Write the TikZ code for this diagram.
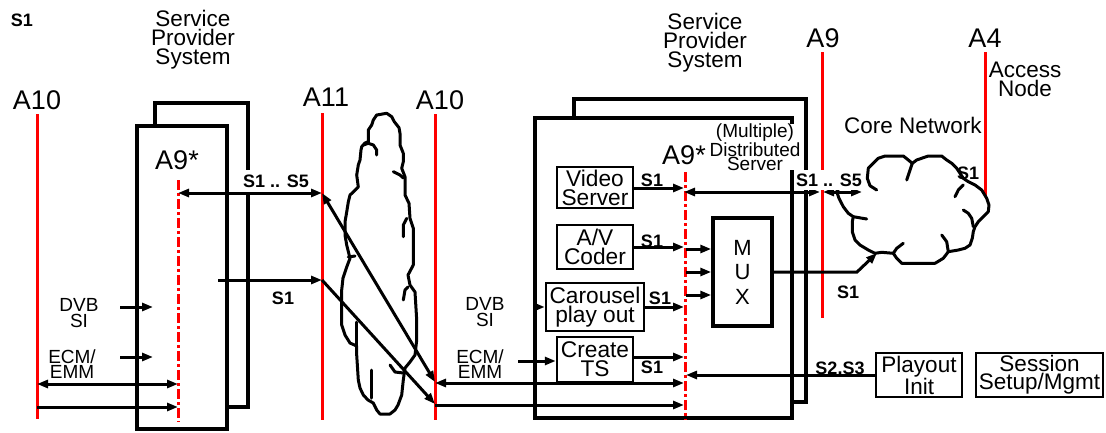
\documentclass[tikz,border=0pt]{standalone}
\usepackage{fontspec}
\setmainfont{Liberation Sans}
\usetikzlibrary{arrows.meta}
\newcommand\myfs[2]{\fontsize{#1}{#2}\selectfont}
\begin{document}
\begin{tikzpicture}[x=1pt,y=-1pt,
  refline/.style={draw=red, line width=3pt},
  refdash/.style={draw=red, line width=3pt, dash pattern=on 10pt off 3pt on 3pt off 3pt},
  sysbox/.style={draw, line width=3.5pt, inner sep=0pt},
  fbox/.style={draw, line width=3.5pt, fill=white, inner sep=0pt},
  blk/.style={draw, line width=2.5pt, inner sep=0pt, align=center, font=\myfs{22.7}{19}, fill=white},
  big/.style={font=\myfs{27}{27}, inner sep=0pt},
  mid/.style={font=\myfs{22.5}{19}, inner sep=0pt, align=center},
  sml/.style={font=\myfs{19}{16}, inner sep=0pt, align=center},
  sig/.style={font=\myfs{18}{18}\bfseries, inner sep=1pt},
  cloudline/.style={draw, line width=3pt, line join=round, line cap=round},
  tip/.style={line width=3pt, -{Triangle[length=11pt,width=8pt]}},
  dtip/.style={line width=3pt, {Triangle[length=11pt,width=8pt]}-{Triangle[length=11pt,width=8pt]}},
]
\useasboundingbox (0,0) rectangle (1106,432);

% ---------- system boxes ----------
\node[sysbox, minimum width=93, minimum height=304] (spLback) at (201.5,255) {};
\node[fbox, minimum width=90, minimum height=303] (spLfront) at (182,277.5) {};
\node[sysbox, minimum width=232, minimum height=303] (spRback) at (690,250.5) {};
\node[fbox, minimum width=257, minimum height=300] (spRfront) at (663.5,268) {};

% ---------- reference lines ----------
\coordinate (a10Lt) at (37,114);   \coordinate (a10Lb) at (37,419);
\coordinate (a11t) at (322,113);   \coordinate (a11b) at (322,420);
\coordinate (a10Mt) at (435,114);  \coordinate (a10Mb) at (435,420);
\coordinate (a9sLt) at (178,180);  \coordinate (a9sLb) at (178,422);
\coordinate (a9sRt) at (685,172);  \coordinate (a9sRb) at (685,420);
\coordinate (a9t) at (822,52);     \coordinate (a9b) at (822,318);
\coordinate (a4t) at (985,52);     \coordinate (a4b) at (985,197);
\draw[refline] (a10Lt) -- (a10Lb);
\draw[refline] (a11t) -- (a11b);
\draw[refline] (a10Mt) -- (a10Mb);
\draw[refdash] (a9sLt) -- (a9sLb);
\draw[refdash] (a9sRt) -- (a9sRb);
\draw[refline] (a9t) -- (a9b);
\draw[refline] (a4t) -- (a4b);

% ---------- left cloud ----------
\draw[cloudline] (376.7,115) -- (386.7,113.3) -- (391.7,116.7) -- (394.3,121.7) -- (399,127.7) -- (400,133.3) -- (400,145) -- (403.3,153.3) -- (403.3,161.7) -- (401.7,168.3) -- (405,176.7) -- (405,195) -- (409,203.3) -- (410,218.3) -- (413.3,228.3) -- (413.3,265) -- (408,275) -- (410,285) -- (415,292) -- (416.7,320) -- (416.7,340) -- (415,355) -- (410,362) -- (405,368) -- (403.3,380) -- (401.7,395) -- (398,405) -- (395,410) -- (390,414) -- (380,414) -- (376.7,410) -- (373.3,403) -- (368,400) -- (363.3,395) -- (360,388) -- (358.3,380) -- (356.7,355) -- (356.7,346) -- (350,343) -- (345,335) -- (341.7,325) -- (341.7,290) -- (343,278) -- (346.7,267) -- (350,258.3) -- (346.7,245) -- (345,235) -- (345,222) -- (346.7,212) -- (348.3,202) -- (350,195) -- (353.3,192) -- (358.3,187) -- (356.7,175) -- (358.3,165) -- (360,160) -- (361,150) -- (361.7,146.7) -- (365,143) -- (368.3,141.7) -- (368.3,130) -- (371.7,125) -- (373.3,120) -- cycle;
\draw[cloudline] (363.3,145) -- (368.3,143.3) -- (373.3,145) -- (376.7,150) -- (376.7,155);
\draw[cloudline] (393.3,171.7) -- (400,175) -- (403.3,178);
\draw[cloudline] (406.7,218.3) -- (403.3,225) -- (403.3,236.7);
\draw[cloudline] (348.3,257) -- (355,256);
\draw[cloudline] (403.3,300) -- (405,290) -- (408,287);
\draw[cloudline] (356.7,346) -- (356.7,322);
\draw[cloudline] (371.7,370) -- (371.7,398);
\draw[cloudline] (390,365) -- (395,372) -- (403.3,373);

% ---------- core network cloud ----------
\draw[cloudline] (876.7,190) -- (870,185.7) -- (867.3,178.3) -- (868.3,168.3) -- (873.3,163.3) -- (878.3,158.3) -- (885,156) -- (903.3,156) -- (908.3,160) -- (912.3,163.3) -- (916.7,160) -- (923.3,157.7) -- (928.3,156) -- (941.7,156) -- (946.7,160) -- (951.7,163.3) -- (956.7,168.3) -- (960,173.3) -- (963.3,178.3) -- (968.3,181.7) -- (975,185) -- (981.7,190) -- (986.7,198.3) -- (989,205) -- (988.3,211.7) -- (983.3,216.7) -- (978.3,221.7) -- (975,226.7) -- (973.3,231.7) -- (972.3,238.3) -- (970,245) -- (965,248.3) -- (958.3,250) -- (948.3,251.7) -- (943.3,258.3) -- (935,263.3) -- (901.7,263.3) -- (896.7,258.3) -- (893.3,253.3) -- (881.7,252.3) -- (875,253.3) -- (868.3,250) -- (860,245) -- (855,240) -- (852.3,231.7) -- (852.3,221.7) -- (853.3,216.7) -- (848.3,213.3) -- (843.3,206.7) -- (839,198.3) -- (836.7,191.7) -- (840,186.7);
\draw[cloudline] (912.3,163.3) -- (906.7,180);
\draw[cloudline] (963.3,185) -- (958.3,190) -- (955,196.7);
\draw[cloudline] (963.3,210) -- (968.3,213.3) -- (971.7,218.3) -- (973.3,226.7);
\draw[cloudline] (941.7,235) -- (946.7,241.7) -- (948.3,251.7);
\draw[cloudline] (903.3,243.3) -- (896.7,248.3) -- (893.3,253.3);
\draw[cloudline] (853.3,216.7) -- (866.7,219);

% ---------- functional blocks ----------
\node[blk, minimum width=76, minimum height=41] (vs) at (595,187.5) {Video\\Server};
\node[blk, minimum width=76, minimum height=44] (av) at (595,247) {A/V\\Coder};
\node[blk, minimum width=98, minimum height=48] (car) at (595,307) {Carousel\\play out};
\node[blk, minimum width=76, minimum height=45] (cts) at (595,359.5) {Create\\TS};
\node[blk, line width=3.5pt, minimum width=59, minimum height=108, font=\myfs{22}{24.5}] (mux) at (742.5,272) {M\\U\\X};
\node[blk, minimum width=86, minimum height=44, font=\myfs{22.5}{16}] (play) at (919,375) {Playout\\Init};
\node[blk, minimum width=127, minimum height=44, font=\myfs{22.5}{18}] (sess) at (1039.5,375) {Session\\Setup/Mgmt};

% ---------- connector end points ----------
\coordinate (lA9a) at (178,193);   \coordinate (lA11a) at (322,193);
\coordinate (lOut) at (218,280);   \coordinate (lA11b) at (322,280);
\coordinate (mA10a) at (435,382);  \coordinate (mA10b) at (435,404);
\coordinate (dvbL) at (120,307);   \coordinate (dvbLe) at (153,307);
\coordinate (ecmL) at (120,357);   \coordinate (ecmLe) at (153,357);
\coordinate (lA10e) at (37,384);   \coordinate (lA9e) at (178,384);
\coordinate (lA10f) at (37,407);   \coordinate (lA9f) at (178,407);
\coordinate (mA10c) at (435,383);  \coordinate (rA9c) at (684,383);
\coordinate (mA10d) at (435,405);  \coordinate (rA9d) at (684,405);
\coordinate (rA9vs) at (684,188);
\coordinate (rA9av) at (684,247);
\coordinate (rA9car) at (684,307);
\coordinate (rA9cts) at (684,357);
\coordinate (frL) at (535,307);
\coordinate (ecmR) at (518,361);
\coordinate (rA9m1) at (686,249);
\coordinate (rA9m2) at (686,272);
\coordinate (rA9m3) at (686,295);
\coordinate (rA9s) at (684,192);   \coordinate (a9s) at (820,192);
\coordinate (a9s2) at (823,192);   \coordinate (cnL) at (862,192);
\coordinate (muxBend) at (857,272); \coordinate (cnB) at (877,253);
\coordinate (rA9p) at (686,375);

% ---------- connectors ----------
\draw[dtip] (lA9a) -- (lA11a);
\draw[tip] (lOut) -- (lA11b);
\draw[dtip] (lA11a) -- (mA10a);
\draw[tip] (lA11b) -- (mA10b);
\draw[tip] (dvbL) -- (dvbLe);
\draw[tip] (ecmL) -- (ecmLe);
\draw[dtip] (lA10e) -- (lA9e);
\draw[tip] (lA10f) -- (lA9f);
\draw[dtip] (mA10c) -- (rA9c);
\draw[tip] (mA10d) -- (rA9d);
\draw[tip] (vs.east |- rA9vs) -- (rA9vs);
\draw[tip] (av.east |- rA9av) -- (rA9av);
\draw[tip] (car.east |- rA9car) -- (rA9car);
\draw[tip] (cts.east |- rA9cts) -- (rA9cts);
\draw[tip] (frL) -- (car.west |- frL);
\draw[tip] (ecmR) -- (cts.west |- ecmR);
\draw[tip] (rA9m1) -- (mux.west |- rA9m1);
\draw[tip] (rA9m2) -- (mux.west |- rA9m2);
\draw[tip] (rA9m3) -- (mux.west |- rA9m3);
\draw[dtip] (rA9s) -- (a9s);
\draw[dtip] (a9s2) -- (cnL);
\draw[tip] (mux.east) -- (muxBend) -- (cnB);
\draw[tip] (play.west) -- (rA9p);

% ---------- labels ----------
\node[sig] (tS1) at (22,20) {S1};
\node[mid] (spLlab) at (193,39.5) {Service\\Provider\\System};
\node[mid] (spRlab) at (705,43) {Service\\Provider\\System};
\node[big] (lA10) at (37,100) {A10};
\node[big] (lA11) at (326,97) {A11};
\node[big] (lA10m) at (440,100) {A10};
\node[big] (lA9sL) at (177,160) {A9*};
\node[big] (lA9sR) at (684,155) {A9*};
\node[big] (lA9) at (823,38) {A9};
\node[big] (lA4) at (985,38) {A4};
\node[mid] (lAcc) at (1025,79) {Access\\Node};
\node[mid] (lCore) at (913,125) {Core Network};
\node[sml, font=\myfs{19}{14}, fill=white] (lMult) at (755,147) {(Multiple)\\Distributed\\Server};
\node[sml] (lDvbL) at (79,313) {DVB\\SI};
\node[sml, font=\myfs{19}{15}] (lEcmL) at (72,364) {ECM/\\EMM};
\node[sml] (lDvbR) at (485,312) {DVB\\SI};
\node[sml, font=\myfs{19}{15}] (lEcmR) at (480,364) {ECM/\\EMM};
\node[sig, fill=white, minimum height=22] (sLtop) at (276,181) {S1 .. S5};
\node[sig] (sLout) at (283,298) {S1};
\node[sig, fill=white, minimum height=20] (sRtop) at (829,180) {S1 .. S5};
\node[sig] (sVs) at (652,180) {S1};
\node[sig] (sAv) at (652,241) {S1};
\node[sig] (sCar) at (660,298) {S1};
\node[sig] (sCts) at (652,367) {S1};
\node[sig] (sMux) at (848,292) {S1};
\node[sig] (sA4) at (968,173) {S1};
\node[sig] (sPlay) at (840,368) {S2.S3};
\end{tikzpicture}
\end{document}
